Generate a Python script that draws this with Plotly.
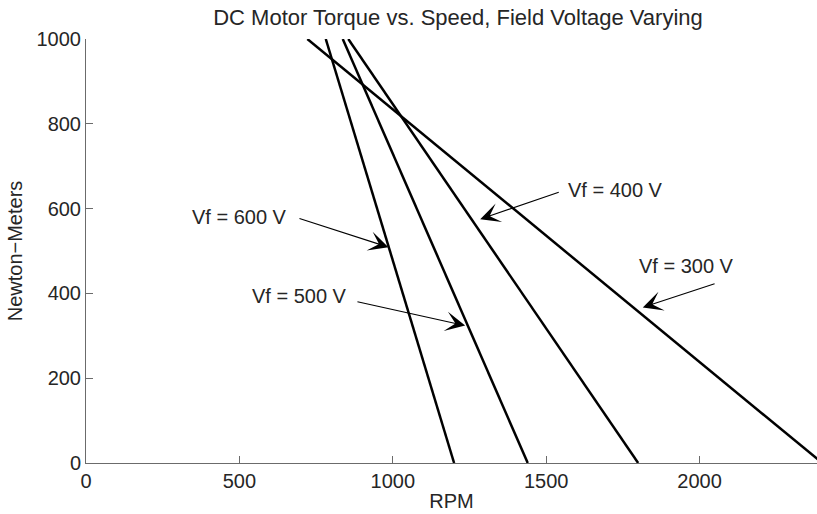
import plotly.graph_objects as go

# Torque-speed lines (straight)
rpm_600 = [781.6, 1200]
nm_600 = [1000, 0]
rpm_500 = [837, 1440]
nm_500 = [1000, 0]
rpm_400 = [855, 1800]
nm_400 = [1000, 0]
rpm_300 = [721.6, 2400]
nm_300 = [1000, 0]

x_ticks = [0, 500, 1000, 1500, 2000]
y_ticks = [0, 200, 400, 600, 800, 1000]

FONT = "Liberation Sans, Arial, Helvetica, sans-serif"
TXT = "#262626"
AX = "#6b6b6b"

fig = go.Figure()
for xs, ys, name in [(rpm_600, nm_600, "Vf = 600 V"), (rpm_500, nm_500, "Vf = 500 V"),
                     (rpm_400, nm_400, "Vf = 400 V"), (rpm_300, nm_300, "Vf = 300 V")]:
    fig.add_trace(go.Scatter(x=xs, y=ys, mode="lines", name=name,
                             line=dict(color="black", width=2.5), showlegend=False))

labels = [
    # text, text x, text y, tail x, tail y, tip x, tip y
    ("Vf = 600 V", 502, 581, 691, 578, 986, 509),
    ("Vf = 500 V", 695, 395, 880, 381, 1236, 324),
    ("Vf = 400 V", 1725, 644, 1546, 640, 1285, 575),
    ("Vf = 300 V", 1957, 465, 2054, 424, 1815, 367),
]
for txt, tx, ty, ax_, ay_, hx, hy in labels:
    fig.add_annotation(x=tx, y=ty, text=txt, showarrow=False,
                       font=dict(family=FONT, size=20, color=TXT))
    fig.add_annotation(x=hx, y=hy, ax=ax_, ay=ay_, axref="x", ayref="y", text="",
                       showarrow=True, arrowhead=3, arrowsize=3, arrowwidth=1.1,
                       arrowcolor="black", standoff=0)

fig.update_layout(
    width=817, height=514,
    margin=dict(l=86, r=0, t=39, b=51),
    paper_bgcolor="white", plot_bgcolor="white",
    font=dict(family=FONT, size=20, color=TXT),
    title=dict(text="DC Motor Torque vs. Speed, Field Voltage Varying",
               x=458 / 817, xref="container", xanchor="center",
               y=1 - 17 / 514, yref="container", yanchor="middle",
               font=dict(family=FONT, size=22, color=TXT)),
)
fig.update_xaxes(range=[0, 2383], tickvals=x_ticks, ticks="inside", ticklen=7,
                 tickcolor=AX, showline=True, linecolor=AX, linewidth=1,
                 showgrid=False, zeroline=False,
                 title=dict(text="RPM", standoff=2, font=dict(size=20)))
fig.update_yaxes(range=[0, 1000], tickvals=y_ticks, ticks="inside", ticklen=7,
                 tickcolor=AX, showline=True, linecolor=AX, linewidth=1,
                 showgrid=False, zeroline=False,
                 title=dict(text="Newton−Meters", standoff=8, font=dict(size=20)))

fig.write_html("out.html", config={"displayModeBar": False},
               post_script="document.body.style.margin='0';document.body.style.overflow='hidden';")
